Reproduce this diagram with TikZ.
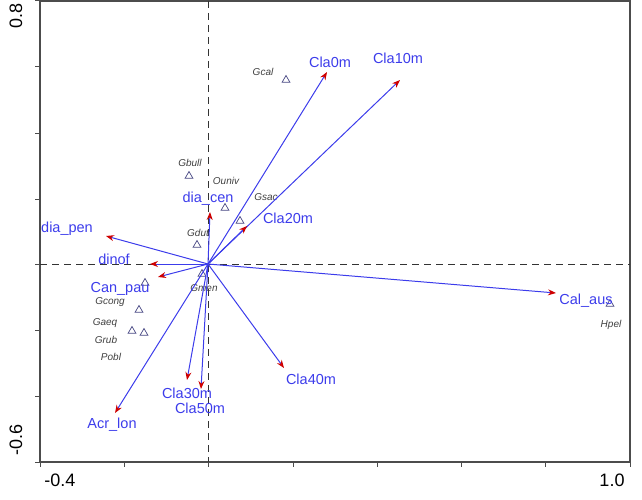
\documentclass[tikz,border=0pt]{standalone}
\usepackage{fontspec}
\setmainfont{Liberation Sans}
\usetikzlibrary{arrows.meta,shapes.geometric}
\definecolor{vblue}{RGB}{60,60,235}
\definecolor{tri}{RGB}{70,70,130}
\begin{document}
\begin{tikzpicture}[x=1pt,y=-1pt,
  vec/.style={draw=vblue,line width=1pt,-{Stealth[length=8pt,width=6pt,fill=red,color=red!80!black]}},
  vlab/.style={text=vblue,font=\fontsize{14.5}{14.5}\selectfont,inner sep=0pt},
  slab/.style={text=black!75,font=\itshape\fontsize{10}{10}\selectfont,inner sep=0pt},
  sp/.style={draw=tri,line width=0.7pt,regular polygon,regular polygon sides=3,minimum size=9pt,inner sep=0pt},
  axl/.style={font=\fontsize{18}{18}\selectfont,inner sep=0pt}]
\useasboundingbox (0,0) rectangle (642,500);
% frame
\draw[black!70,line width=1.2pt] (40,1) rectangle (630,462);
\foreach \x in {40,124,208,293,377,461,545,630} \draw[black!70,line width=1pt] (\x,462) -- (\x,467);
\foreach \y in {1,67,133,199,264,330,396,462} \draw[black!70,line width=1pt] (40,\y) -- (35,\y);
\node[axl] (xl) at (60,480) {-0.4};
\node[axl] (xr) at (612,480) {1.0};
\node[axl,rotate=90] (yt) at (16,16) {0.8};
\node[axl,rotate=90] (yb) at (16,440) {-0.6};
% dashed axes
\draw[black!80,line width=1pt,dash pattern=on 7pt off 5pt] (40,264) -- (630,264);
\draw[black!80,line width=1pt,dash pattern=on 7pt off 5pt] (208,1) -- (208,462);
\coordinate (O) at (208,264);
% species
\node[sp] (tGcal) at (286,80) {}; \node[slab] (Gcal) at (263,72) {Gcal};
\node[sp] (tGbull) at (189,176) {}; \node[slab] (Gbull) at (190,163) {Gbull};
\node[slab] (Ouniv) at (226,181) {Ouniv};
\node[sp] (tOuniv) at (225,208) {};
\node[sp] (tGsac) at (240,221) {}; \node[slab] (Gsac) at (266,197) {Gsac};
\node[sp] (tGdut) at (197,245) {}; \node[slab] (Gdut) at (198,233) {Gdut};
\node[sp] (tGmen) at (202,274) {}; \node[slab] (Gmen) at (204,288) {Gmen};
\node[sp] (tCan) at (145,283) {};
\node[sp] (tGcong) at (139,310) {}; \node[slab] (Gcong) at (110,302) {Gcong};
\node[sp] (tGaeq) at (132,331) {}; \node[slab] (Gaeq) at (105,323) {Gaeq};
\node[sp] (tGrub) at (144,333) {}; \node[slab] (Grub) at (106,340) {Grub};
\node[slab] (Pobl) at (111,357) {Pobl};
\node[sp] (tHpel) at (610,304) {}; \node[slab] (Hpel) at (611,325) {Hpel};
% vectors
\foreach \n/\x/\y in {Cla0m/327/72,Cla10m/400/80,Cla20m/247/226,diacen/210/212,diapen/106/236,dinof/150/264,Canpau/158/277,Acrlon/115/413,Cla30m/187/380,Cla50m/201/389,Cla40m/284/368,Calaus/556/293}
  {\coordinate (e\n) at (\x,\y); \draw[vec] (O) -- (e\n);}
\node[vlab] (lCla0m) at (330,62) {Cla0m};
\node[vlab] (lCla10m) at (398,58) {Cla10m};
\node[vlab] (lCla20m) at (288,218) {Cla20m};
\node[vlab] (ldiacen) at (208,199) {dia\_cen};
\node[vlab] (ldiapen) at (67,229) {dia\_pen};
\node[vlab] (ldinof) at (114,259) {dinof};
\node[vlab] (lCanpau) at (120,289) {Can\_pau};
\node[vlab] (lAcrlon) at (112,425) {Acr\_lon};
\node[vlab] (lCla30m) at (187,393) {Cla30m};
\node[vlab] (lCla50m) at (200,408) {Cla50m};
\node[vlab] (lCla40m) at (311,379) {Cla40m};
\node[vlab] (lCalaus) at (586,301) {Cal\_aus};
\end{tikzpicture}
\end{document}
